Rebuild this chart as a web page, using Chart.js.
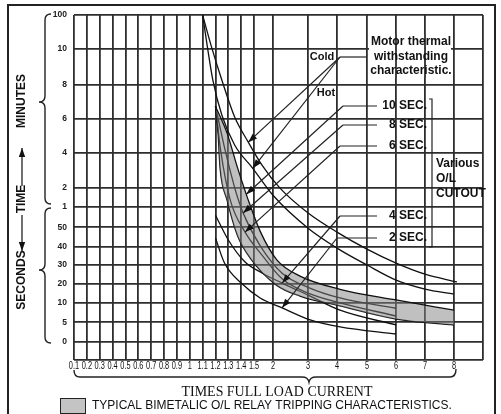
<!DOCTYPE html>
<html>
<head>
<meta charset="utf-8">
<script src="https://cdn.jsdelivr.net/npm/chart.js@4.4.0/dist/chart.umd.min.js"></script>
<style>
html, body { margin: 0; padding: 0; background: #fff; }
#relayChart { display: block; }
</style>
</head>
<body>
<canvas id="relayChart" width="501" height="414" style="width:501px;height:414px"></canvas>
<script>
const ctx = document.getElementById('relayChart').getContext('2d');

// x: times full load current, y: time in seconds
const currentTicks = [0.1, 0.2, 0.3, 0.4, 0.5, 0.6, 0.7, 0.8, 0.9, 1, 1.1, 1.2, 1.3, 1.4, 1.5, 2, 3, 4, 5, 6, 7, 8];
const currentLabels = ['0.1', '0.2', '0.3', '0.4', '0.5', '0.6', '0.7', '0.8', '0.9', '1', '1.1', '1.2', '1.3', '1.4', '1.5', '2', '3', '4', '5', '6', '7', '8'];
const timeTicks = [0, 5, 10, 20, 30, 40, 50, 60, 120, 240, 360, 480, 600, 6000];
const timeLabels = ['0', '5', '10', '20', '30', '40', '50', '1', '2', '4', '6', '8', '10', '100'];

// motor thermal withstanding characteristic
const coldCurrent = [1.1, 1.165, 1.25, 1.35, 1.455, 1.71, 2.2, 3, 4, 5, 6, 7, 8.1];
const coldSeconds = [6000, 1200, 495, 365, 277, 197, 118, 57, 47.5, 38.6, 31, 25, 20.8];
const hotCurrent = [1.1, 1.135, 1.18, 1.25, 1.35, 1.49, 2, 3, 4, 5, 6, 7, 8];
const hotSeconds = [6000, 1200, 495, 372, 266, 186, 96, 49.5, 39.2, 30, 21.8, 17.1, 14.5];

// typical bimetalic relay band
const bandUpperCurrent = [1.2, 1.29, 1.37, 1.455, 1.66, 2.11, 2.77, 4.1, 6, 8];
const bandUpperSeconds = [404, 309, 190, 81, 48, 32.8, 24, 17, 11.5, 8.1];
const bandLowerCurrent = [1.2, 1.22, 1.235, 1.29, 1.37, 1.47, 2.11, 2.77, 4.1, 6, 8];
const bandLowerSeconds = [404, 309, 190, 81, 45.9, 33.8, 19, 13.5, 9.2, 5.8, 4.28];

// O/L cutout curves
const sec8Current = [1.2, 1.275, 1.355, 1.415, 1.66, 2.26, 3, 4.1, 6];
const sec8Seconds = [404, 248.5, 111.6, 57, 40.5, 25.5, 18, 12.5, 8.6];
const sec6Current = [1.2, 1.24, 1.315, 1.43, 1.71, 2.26, 3, 4.1, 6];
const sec6Seconds = [404, 248.5, 81, 47.5, 35.4, 22.5, 15, 10, 6.6];
const sec4Current = [1.2, 1.3, 1.43, 1.71, 2.26, 3, 4.1, 6];
const sec4Seconds = [55.9, 43.4, 31.6, 25.7, 20.2, 14, 8.1, 4.28];
const sec2Current = [1.2, 1.27, 1.4, 1.66, 2.26, 3.07, 4.1, 6];
const sec2Seconds = [44.4, 31.1, 20.2, 12.5, 8.7, 5.6, 3.8, 1.96];

// grid layout of the printed chart (axis units, not data)
const xGridPos = [0, 1, 2, 3, 4, 5, 6, 7, 8, 9, 10, 11, 12, 13, 14, 15.47, 18.2, 20.45, 22.78, 25.04, 27.29, 29.55];
const X_MAX = 31.8;
const yGridPos = [0.95, 1.95, 2.95, 3.95, 4.9, 5.85, 6.85, 7.9, 8.9, 10.7, 12.45, 14.2, 16.05, 17.8];
const Y_MAX = 17.8;

function interp(v, from, to) {
	let i = 1;
	while (i < from.length - 1 && v > from[i]) i++;
	const t = (v - from[i - 1]) / (from[i] - from[i - 1]);
	return to[i - 1] + t * (to[i] - to[i - 1]);
}
const toX = c => interp(c, currentTicks, xGridPos);
const toY = s => interp(s, timeTicks, yGridPos);
const pts = (cs, ss) => cs.map((c, i) => ({x: toX(c), y: toY(ss[i])}));

function curveY(cs, ss, c0) {
	const p = pts(cs, ss);
	const ax = toX(c0);
	let i = 1;
	while (i < p.length - 1 && ax > p[i].x) i++;
	const t = (ax - p[i - 1].x) / (p[i].x - p[i - 1].x);
	return p[i - 1].y + t * (p[i].y - p[i - 1].y);
}

function arrow(c, x1, y1, x2, y2) {
	c.beginPath(); c.moveTo(x1, y1); c.lineTo(x2, y2); c.stroke();
	const a = Math.atan2(y2 - y1, x2 - x1);
	const L = 9, W = 3.2;
	c.beginPath();
	c.moveTo(x2, y2);
	c.lineTo(x2 - L * Math.cos(a) + W * Math.sin(a), y2 - L * Math.sin(a) - W * Math.cos(a));
	c.lineTo(x2 - L * Math.cos(a) - W * Math.sin(a), y2 - L * Math.sin(a) + W * Math.cos(a));
	c.closePath(); c.fill();
}

function vBrace(c, x, y1, y2, ym) {
	c.beginPath();
	c.moveTo(x + 6, y1);
	c.quadraticCurveTo(x, y1, x, y1 + 6);
	c.lineTo(x, ym - 6);
	c.quadraticCurveTo(x, ym, x - 6, ym);
	c.quadraticCurveTo(x, ym, x, ym + 6);
	c.lineTo(x, y2 - 6);
	c.quadraticCurveTo(x, y2, x + 6, y2);
	c.stroke();
}

function fitFont(c, text, weight, family, width) {
	c.font = weight + ' 20px ' + family;
	const size = 20 * width / c.measureText(text).width;
	return weight + ' ' + size.toFixed(2) + 'px ' + family;
}

const decor = {
	id: 'decor',
	afterDraw(chart) {
		const c = chart.ctx;
		const sx = chart.scales.x, sy = chart.scales.y;
		const tip = (cs, ss, c0) => [sx.getPixelForValue(toX(c0)), sy.getPixelForValue(curveY(cs, ss, c0))];
		c.save();
		c.strokeStyle = '#222';
		c.fillStyle = '#111';

		// frame
		c.lineWidth = 2;
		c.strokeRect(8, 5, 487, 430);

		// condensed x tick labels
		c.font = '10px Arial, "Liberation Sans", sans-serif';
		c.textAlign = 'center';
		c.textBaseline = 'middle';
		currentLabels.forEach((t, i) => {
			c.save();
			c.translate(sx.getPixelForValue(xGridPos[i]), 366.5);
			c.scale(0.74, 1);
			c.fillText(t, 0, 0);
			c.restore();
		});

		// y title
		c.font = 'bold 12px Arial, "Liberation Sans", sans-serif';
		[['MINUTES', 101], ['TIME', 199], ['SECONDS', 280]].forEach(([t, y]) => {
			c.save(); c.translate(22, y); c.rotate(-Math.PI / 2); c.fillText(t, 0, 0); c.restore();
		});
		c.lineWidth = 1.3;
		arrow(c, 22, 186, 22, 148);
		arrow(c, 22, 215, 22, 251);

		// braces
		c.lineWidth = 1.4;
		vBrace(c, 45, 14, 204, 102);
		vBrace(c, 45, 208, 343, 270);
		c.beginPath();
		c.moveTo(74, 370);
		c.quadraticCurveTo(74, 377, 80, 377);
		c.lineTo(302, 377);
		c.quadraticCurveTo(308, 377, 309, 382);
		c.quadraticCurveTo(310, 377, 316, 377);
		c.lineTo(450, 377);
		c.quadraticCurveTo(456, 377, 456, 369);
		c.stroke();

		// x title and legend
		c.font = fitFont(c, 'TIMES FULL LOAD CURRENT', 'normal', '"Liberation Serif", "Times New Roman", serif', 191);
		c.fillText('TIMES FULL LOAD CURRENT', 277, 392);
		c.fillStyle = '#c4c4c4';
		c.fillRect(60, 398, 25, 15);
		c.lineWidth = 1;
		c.strokeRect(60.5, 398.5, 25, 15);
		c.fillStyle = '#111';
		c.textAlign = 'left';
		const legendText = 'TYPICAL BIMETALIC O/L RELAY TRIPPING CHARACTERISTICS.';
		c.font = fitFont(c, legendText, 'normal', 'Arial, "Liberation Sans", sans-serif', 360);
		c.fillText(legendText, 92, 406);

		// white patch behind the motor note, vertical grid lines stay on top
		c.fillStyle = '#fff';
		c.fillRect(369, 34, 82, 44);
		c.strokeStyle = '#2e2e2e';
		c.lineWidth = 1.8;
		[6, 7].forEach(i => {
			const gx = Math.round(sx.getPixelForValue(xGridPos[currentTicks.indexOf(i)]));
			c.beginPath(); c.moveTo(gx, 34); c.lineTo(gx, 78); c.stroke();
		});
		c.strokeStyle = '#222';
		c.fillStyle = '#111';

		// annotations
		c.font = 'bold 12px Arial, "Liberation Sans", sans-serif';
		c.textAlign = 'center';
		c.fillText('Motor thermal', 411, 42);
		c.fillText('withstanding', 411, 57);
		c.fillText('characteristic.', 411, 71);
		c.font = 'bold 11px Arial, "Liberation Sans", sans-serif';
		c.fillText('Cold', 322, 57);
		c.fillText('Hot', 326, 93);
		c.font = 'bold 12px Arial, "Liberation Sans", sans-serif';
		c.textAlign = 'right';
		c.fillText('10 SEC.', 427, 106);
		c.fillText('8 SEC.', 427, 125);
		c.fillText('6 SEC.', 427, 146);
		c.fillText('4 SEC.', 427, 216);
		c.fillText('2 SEC.', 427, 238);
		c.textAlign = 'left';
		c.fillText('Various', 436, 164);
		c.fillText('O/L', 436, 179);
		c.fillText('CUTOUT', 436, 194);

		c.lineWidth = 1.2;
		c.beginPath();
		c.moveTo(429, 99); c.lineTo(432, 99); c.lineTo(432, 247); c.lineTo(429, 247);
		c.stroke();

		const leaders = [
			[366, 340, 57, [tip(coldCurrent, coldSeconds, 1.455), tip(hotCurrent, hotSeconds, 1.49)]],
			[377, 343, 106, [tip(bandUpperCurrent, bandUpperSeconds, 1.44)]],
			[377, 343, 125, [tip(sec8Current, sec8Seconds, 1.415)]],
			[377, 340, 146, [tip(sec6Current, sec6Seconds, 1.43)]],
			[377, 340, 216, [tip(sec4Current, sec4Seconds, 2.26)]],
			[377, 337, 238, [tip(sec2Current, sec2Seconds, 2.26)]]
		];
		leaders.forEach(([xa, xb, y, tips]) => {
			c.beginPath(); c.moveTo(xa, y); c.lineTo(xb, y); c.stroke();
			tips.forEach(([tx, ty]) => arrow(c, xb, y, tx, ty));
		});
		c.restore();
	}
};

const curve = (label, cs, ss, extra) => Object.assign({
	label: label,
	data: pts(cs, ss),
	borderColor: '#111',
	borderWidth: 1.3,
	pointRadius: 0,
	fill: false,
	cubicInterpolationMode: 'monotone'
}, extra || {});

const relayChart = new Chart(ctx, {
	type: 'line',
	data: {
		datasets: [
			curve('Typical bimetalic O/L relay tripping characteristics', bandUpperCurrent, bandUpperSeconds,
				{fill: '+1', backgroundColor: 'rgba(130, 130, 130, 0.5)'}),
			curve('Relay band lower', bandLowerCurrent, bandLowerSeconds),
			curve('Motor cold', coldCurrent, coldSeconds),
			curve('Motor hot', hotCurrent, hotSeconds),
			curve('8 SEC', sec8Current, sec8Seconds),
			curve('6 SEC', sec6Current, sec6Seconds),
			curve('4 SEC', sec4Current, sec4Seconds),
			curve('2 SEC', sec2Current, sec2Seconds)
		]
	},
	options: {
		responsive: false,
		animation: false,
		layout: {autoPadding: false, padding: {top: 15, right: 18, left: 0, bottom: 0}},
		plugins: {
			legend: {display: false},
			tooltip: {enabled: false}
		},
		scales: {
			x: {
				type: 'linear',
				min: 0,
				max: X_MAX,
				afterBuildTicks: s => { s.ticks = xGridPos.map(v => ({value: v})).concat([{value: X_MAX}]); },
				afterFit: s => { s.height = 54; },
				ticks: {display: false},
				grid: {color: '#2e2e2e', lineWidth: 1.8, drawTicks: false},
				border: {display: false}
			},
			y: {
				type: 'linear',
				min: 0,
				max: Y_MAX,
				afterBuildTicks: s => { s.ticks = [{value: 0}].concat(yGridPos.map(v => ({value: v}))); },
				afterFit: s => { s.width = 74; },
				ticks: {
					autoSkip: false,
					padding: 7,
					color: '#222',
					font: {family: 'Arial, "Liberation Sans", sans-serif', size: 8.5, weight: 'bold'},
					callback: (v, i) => i === 0 ? '' : timeLabels[i - 1]
				},
				grid: {color: '#2e2e2e', lineWidth: 1.8, drawTicks: false},
				border: {display: false}
			}
		}
	},
	plugins: [decor]
});
</script>
</body>
</html>
